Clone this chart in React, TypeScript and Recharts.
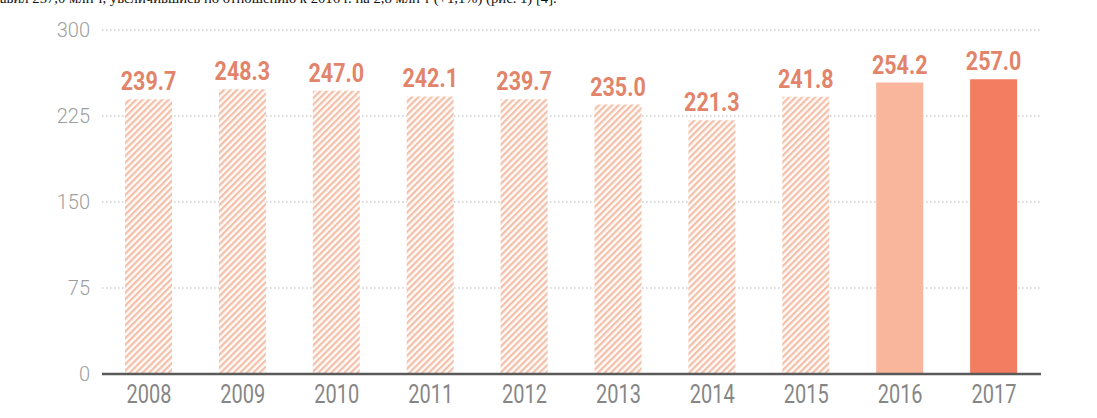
import React from 'react';
import { BarChart, Bar, XAxis, YAxis, CartesianGrid, Cell, LabelList } from 'recharts';

const years = ['2008', '2009', '2010', '2011', '2012', '2013', '2014', '2015', '2016', '2017'];
const volumes = [239.7, 248.3, 247.0, 242.1, 239.7, 235.0, 221.3, 241.8, 254.2, 257.0];
const yTicks = [0, 75, 150, 225, 300];
const captionText = 'авил 257,0 млн т, увеличившись по отношению к 2016 г. на 2,8 млн т (+1,1%) (рис. 1) [4].';

const data = years.map((year, i) => ({ year, value: volumes[i] }));

const barFill = (i: number) => {
    if (i === years.length - 1) return '#f27d60';
    if (i === years.length - 2) return '#f9b69c';
    return 'url(#hatch)';
};

// no condensed font in the sandbox, so squeeze Roboto horizontally
const squeeze = (cx: number, cy: number, k: number) =>
    `translate(${cx} ${cy}) scale(${k} 1) translate(${-cx} ${-cy})`;

const ValueLabel = (props: any) => {
    const { x, y, width, value } = props;
    const cx = Number(x) + Number(width) / 2;
    const cy = Number(y) - 9;
    return (
        <text
            x={cx}
            y={cy}
            textAnchor="middle"
            fill="#e2846a"
            fontSize={25}
            fontWeight="bold"
            fontFamily="Roboto, sans-serif"
            transform={squeeze(cx, cy, 0.86)}
        >
            {Number(value).toFixed(1)}
        </text>
    );
};

const YearTick = (props: any) => {
    const { x, y, payload } = props;
    const cy = Number(y) + 21;
    return (
        <text
            x={x}
            y={cy}
            textAnchor="middle"
            fill="#868686"
            fontSize={25}
            fontFamily="Roboto, sans-serif"
            transform={squeeze(Number(x), cy, 0.8)}
        >
            {payload.value}
        </text>
    );
};

const App: React.FC = () => {
    return (
        <div style={{ position: 'absolute', left: 0, top: 0, width: 1097, height: 418, background: '#fff', overflow: 'hidden' }}>
            <div
                style={{
                    position: 'absolute',
                    left: 0,
                    top: -10,
                    fontFamily: "'Liberation Serif', 'DejaVu Serif', serif",
                    fontSize: 14.7,
                    color: '#111',
                    whiteSpace: 'nowrap',
                }}
            >
                {captionText}
            </div>
            <BarChart
                width={1097}
                height={418}
                data={data}
                margin={{ top: 30, right: 56, left: 0, bottom: 0 }}
                barSize={47}
            >
                <defs>
                    <pattern id="hatch" width="4.6" height="4.6" patternUnits="userSpaceOnUse" patternTransform="rotate(45)">
                        <rect x="0" y="0" width="4.6" height="4.6" fill="#fffaf7" />
                        <rect x="0" y="0" width="2.2" height="4.6" fill="#f2c0aa" />
                    </pattern>
                </defs>
                <CartesianGrid vertical={false} stroke="#b5b5b5" strokeDasharray="1.5 2.5" />
                <XAxis
                    dataKey="year"
                    height={44}
                    tickLine={false}
                    axisLine={{ stroke: '#5a5a5a', strokeWidth: 2.5 }}
                    tick={<YearTick />}
                />
                <YAxis
                    width={102}
                    domain={[0, 300]}
                    ticks={yTicks}
                    axisLine={false}
                    tickLine={false}
                    tickMargin={6}
                    tick={{ fill: '#9e9e9e', fontSize: 20, fontFamily: 'Roboto, sans-serif', fontWeight: 300 }}
                />
                <Bar dataKey="value" isAnimationActive={false}>
                    {data.map((entry, i) => (
                        <Cell key={entry.year} fill={barFill(i)} />
                    ))}
                    <LabelList dataKey="value" content={<ValueLabel />} />
                </Bar>
            </BarChart>
        </div>
    );
};

export default App;
